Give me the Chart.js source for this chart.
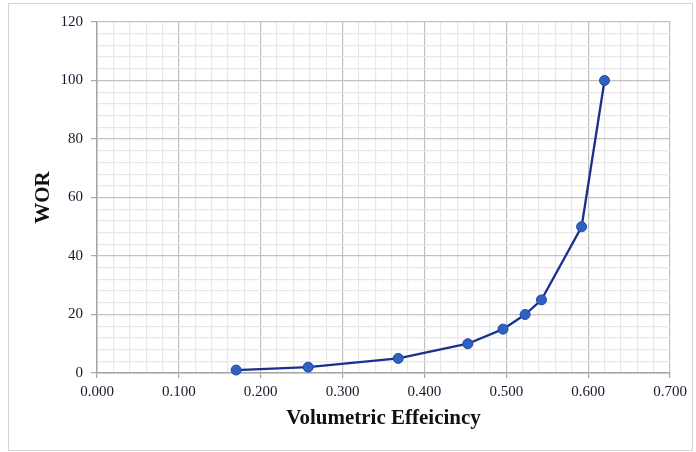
<!DOCTYPE html>
<html>
<head>
<meta charset="utf-8">
<script src="https://cdn.jsdelivr.net/npm/chart.js@4/dist/chart.umd.min.js"></script>
<style>
  html, body { margin: 0; padding: 0; background: #fff; }
  .frame { position: absolute; left: 8px; top: 3px; width: 683px; height: 446px; border: 1px solid #d4d4d4; }
  .wrap { position: absolute; left: 0; top: 0; width: 696px; height: 452px; }
</style>
</head>
<body>
<div class="frame"></div>
<div class="wrap"><canvas id="myChart" width="696" height="452"></canvas></div>
<script>
// volumetric efficiency vs water-oil ratio
const efficiency = [0.170, 0.258, 0.368, 0.453, 0.496, 0.523, 0.543, 0.592, 0.620]
const wor = [1, 2, 5, 10, 15, 20, 25, 50, 100]

const xMajor = 0.1, xMinor = 0.02
const yMajor = 20, yMinor = 4

const isMajor = (v, major) => Math.abs(v / major - Math.round(v / major)) < 1e-6

const serif = 'Liberation Serif'

let ctx = document.querySelector('#myChart').getContext('2d')

let myChart = new Chart(ctx, {
    type: 'scatter',
    data: {
        datasets: [{
            label: 'WOR',
            data: efficiency.map((x, i) => ({ x: x, y: wor[i] })),
            showLine: true,
            clip: false,
            borderColor: '#1b2f8f',
            borderWidth: 2.3,
            backgroundColor: '#2f62c0',
            pointBorderColor: '#1f4aa6',
            pointBorderWidth: 1,
            pointRadius: 5,
            pointHoverRadius: 5,
            tension: 0
        }]
    },
    options: {
        responsive: false,
        animation: false,
        layout: {
            padding: { left: 0, right: 26, top: 22, bottom: 0 }
        },
        plugins: {
            legend: { display: false },
            tooltip: { enabled: false }
        },
        scales: {
            x: {
                type: 'linear',
                min: 0,
                max: 0.7,
                afterFit: (scale) => { scale.height = 79 },
                ticks: {
                    stepSize: xMinor,
                    maxTicksLimit: 100,
                    autoSkip: false,
                    maxRotation: 0,
                    padding: 5,
                    color: '#141a2a',
                    font: { family: serif, size: 15 },
                    callback: (v) => isMajor(v, xMajor) ? v.toFixed(3) : ''
                },
                grid: {
                    color: (c) => isMajor(c.tick.value, xMajor) ? '#c2c2c2' : '#e8e8e8',
                    tickColor: (c) => isMajor(c.tick.value, xMajor) ? '#a6a6a6' : 'rgba(0,0,0,0)',
                    tickLength: 5,
                    lineWidth: 1.2
                },
                border: { color: '#a6a6a6', width: 1.5 },
                title: {
                    display: true,
                    text: 'Volumetric Effeicincy',
                    color: '#111',
                    font: { family: serif, size: 21, weight: 'bold' },
                    padding: { top: 0, bottom: 21 }
                }
            },
            y: {
                min: 0,
                max: 120,
                afterFit: (scale) => { scale.width = 97 },
                ticks: {
                    stepSize: yMinor,
                    maxTicksLimit: 100,
                    autoSkip: false,
                    padding: 8,
                    color: '#141a2a',
                    font: { family: serif, size: 15 },
                    callback: (v) => isMajor(v, yMajor) ? String(v) : ''
                },
                grid: {
                    color: (c) => isMajor(c.tick.value, yMajor) ? '#c2c2c2' : '#e8e8e8',
                    tickColor: (c) => isMajor(c.tick.value, yMajor) ? '#a6a6a6' : 'rgba(0,0,0,0)',
                    tickLength: 6,
                    lineWidth: 1.2
                },
                border: { color: '#a6a6a6', width: 1.5 },
                title: {
                    display: true,
                    text: 'WOR',
                    color: '#111',
                    font: { family: serif, size: 21, weight: 'bold' },
                    padding: { top: 31, bottom: 0 }
                }
            }
        }
    }
})
</script>
</body>
</html>
